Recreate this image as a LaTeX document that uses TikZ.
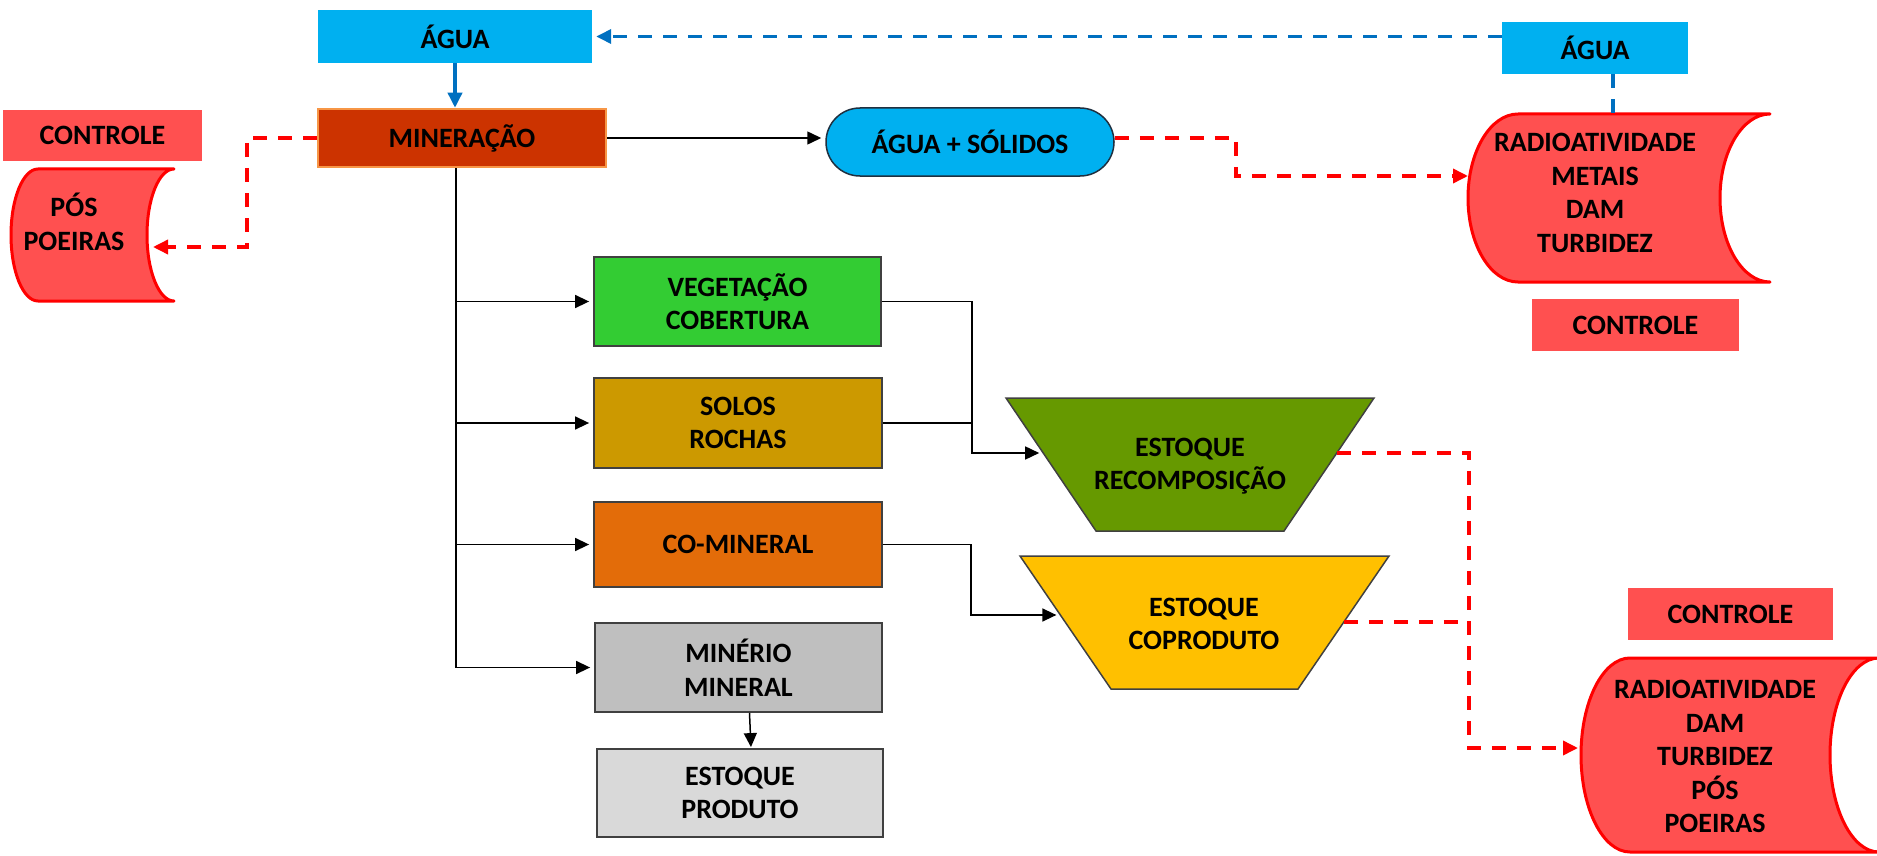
\documentclass[tikz,border=0pt]{standalone}
\usepackage{fontspec}
\setmainfont{Carlito}
\usetikzlibrary{arrows.meta,calc}
\definecolor{cyanb}{HTML}{00B0F0}
\definecolor{blued}{HTML}{0070C0}
\definecolor{minfill}{HTML}{CC3300}
\definecolor{minborder}{HTML}{F79646}
\definecolor{redfill}{HTML}{FF5050}
\definecolor{redline}{HTML}{FF0000}
\definecolor{vegfill}{HTML}{33CC33}
\definecolor{solfill}{HTML}{CC9900}
\definecolor{cofill}{HTML}{E36C09}
\definecolor{minerfill}{HTML}{BFBFBF}
\definecolor{prodfill}{HTML}{D9D9D9}
\definecolor{recfill}{HTML}{669900}
\definecolor{copfill}{HTML}{FFC000}
\definecolor{edgegray}{HTML}{404040}
\definecolor{navyedge}{HTML}{1F3040}
\begin{document}
\begin{tikzpicture}[x=1pt,y=-1pt,
  lbl/.style={font=\fontsize{28}{33.5}\selectfont\bfseries, align=center, text=black, inner sep=0pt},
  box/.style={lbl, draw=edgegray, line width=1.8pt},
  stored/.style={fill=redfill, draw=redline, line width=3pt, line join=round},
  trap/.style={draw=edgegray, line width=1.5pt, line join=miter},
  conn/.style={draw=black, line width=1.5pt},
  arr/.style={conn, -{Triangle[length=14pt,width=13pt]}, shorten >=4pt},
  reddash/.style={draw=redline, line width=3.5pt, dash pattern=on 14pt off 11pt},
  redarr/.style={reddash, -{Triangle[length=15pt,width=14pt]}, shorten >=2pt},
  bluedash/.style={draw=blued, line width=3.5pt, dash pattern=on 14pt off 11pt},
  bluearr/.style={draw=blued, line width=3.5pt, -{Triangle[length=15pt,width=14pt]}}
]
\useasboundingbox (0,0) rectangle (1877,856);

% top row
\node[lbl, fill=cyanb, minimum width=274pt, minimum height=53pt] (agua1) at (455,36.5) {ÁGUA};
\node[lbl, fill=minfill, draw=minborder, line width=2.5pt, minimum width=288pt, minimum height=58pt] (miner) at (462,138) {MINERAÇÃO};
\node[lbl, fill=cyanb, minimum width=186pt, minimum height=52pt] (agua2) at (1595,48) {ÁGUA};
\node[lbl, fill=cyanb, draw=navyedge, line width=1.5pt, rounded corners=34pt, minimum width=288pt, minimum height=68pt] (aguasol) at (970,142) {ÁGUA + SÓLIDOS};

% controle labels
\node[lbl, fill=redfill, minimum width=199pt, minimum height=51pt] (ctrl1) at (102.5,135.5) {CONTROLE};
\node[lbl, fill=redfill, minimum width=207pt, minimum height=52pt] (ctrl2) at (1635.5,325) {CONTROLE};
\node[lbl, fill=redfill, minimum width=205pt, minimum height=52pt] (ctrl3) at (1730.5,614) {CONTROLE};

% stored data shapes
\draw[stored] (38,169) -- (174,169) arc[start angle=90,end angle=270,x radius=27pt,y radius=66pt] -- (38,301) arc[start angle=270,end angle=90,x radius=27pt,y radius=66pt] -- cycle;
\node[lbl] (pos) at (74,222) {PÓS\\POEIRAS};
\coordinate (posin) at (151,247);

\draw[stored] (1518,114) -- (1770,114) arc[start angle=90,end angle=270,x radius=50pt,y radius=84pt] -- (1518,282) arc[start angle=270,end angle=90,x radius=50pt,y radius=84pt] -- cycle;
\node[lbl] (radio1) at (1595,193) {RADIOATIVIDADE\\METAIS\\DAM\\TURBIDEZ};
\coordinate (radin1) at (1470,176);

\draw[stored] (1630,658) -- (1879,658) arc[start angle=90,end angle=270,x radius=49pt,y radius=97pt] -- (1630,852) arc[start angle=270,end angle=90,x radius=49pt,y radius=97pt] -- cycle;
\node[lbl] (radio2) at (1715,756.5) {RADIOATIVIDADE\\DAM\\TURBIDEZ\\PÓS\\POEIRAS};
\coordinate (radin2) at (1580,748);

% boxes
\node[box, fill=vegfill, minimum width=287pt, minimum height=89pt] (veg) at (737.5,301.5) {VEGETAÇÃO\\COBERTURA};
\node[box, fill=solfill, minimum width=288pt, minimum height=90pt] (sol) at (738,423) {SOLOS\\ROCHAS};
\node[box, fill=cofill, minimum width=288pt, minimum height=85pt] (co) at (738,544.5) {CO-MINERAL};
\node[box, fill=minerfill, minimum width=287pt, minimum height=89pt] (mineral) at (738.5,667.5) {MINÉRIO\\MINERAL};
\node[box, fill=prodfill, minimum width=286pt, minimum height=88pt] (prod) at (740,793) {ESTOQUE\\PRODUTO};

% trapezoids
\coordinate (r1) at (1006,398); \coordinate (r2) at (1374,398);
\coordinate (r3) at (1284,531); \coordinate (r4) at (1096,531);
\draw[trap, fill=recfill] (r1) -- (r2) -- (r3) -- (r4) -- cycle;
\node[lbl] (estrec) at (1190,466) {ESTOQUE\\RECOMPOSIÇÃO};
\coordinate (recin) at ($(r1)!0.4135!(r4)$);
\coordinate (recout) at ($(r2)!0.4135!(r3)$);

\coordinate (c1) at (1020,556); \coordinate (c2) at (1389,556);
\coordinate (c3) at (1298,689); \coordinate (c4) at (1111,689);
\draw[trap, fill=copfill] (c1) -- (c2) -- (c3) -- (c4) -- cycle;
\node[lbl] (estcop) at (1204,624) {ESTOQUE\\COPRODUTO};
\coordinate (copin) at ($(c1)!0.4436!(c4)$);
\coordinate (copout) at ($(c2)!0.496!(c3)$);

% blue connectors
\draw[bluearr] (agua1.south) -- (agua1.south |- miner.north);
\draw[bluedash, -{Triangle[length=15pt,width=14pt]}, shorten >=4pt] (agua2.west |- agua1.east) -- (agua1.east);
\draw[bluedash] ([xshift=18pt]agua2.south) -- ++(0,40);

% black connectors
\draw[arr] (miner.east) -- (miner.east -| aguasol.west);
\coordinate (t0) at ([xshift=-6pt]miner.south);
\draw[conn] (t0) -- (t0 |- mineral.west);
\draw[arr] (t0 |- veg.west) -- (veg.west);
\draw[arr] (t0 |- sol.west) -- (sol.west);
\draw[arr] (t0 |- co.west) -- (co.west);
\draw[arr] (t0 |- mineral.west) -- (mineral.west);
\draw[arr, shorten >=1pt] ([xshift=11pt]mineral.south) -- ([xshift=11pt]prod.north);
\draw[arr] (veg.east) -- ++(90,0) coordinate (j1) |- (recin);
\draw[conn] (sol.east) -- (sol.east -| j1);
\draw[arr] (co.east) -- ++(88,0) |- (copin);

% red dashed connectors
\draw[redarr] (miner.west) -- ++(-70,0) |- (posin);
\draw[redarr] ([yshift=4pt]aguasol.east) -- ++(121,0) |- (radin1);
\draw[redarr] (recout) -- ++(132,0) coordinate (j3) |- (radin2);
\draw[reddash] (copout) -- (copout -| j3);
\end{tikzpicture}
\end{document}
